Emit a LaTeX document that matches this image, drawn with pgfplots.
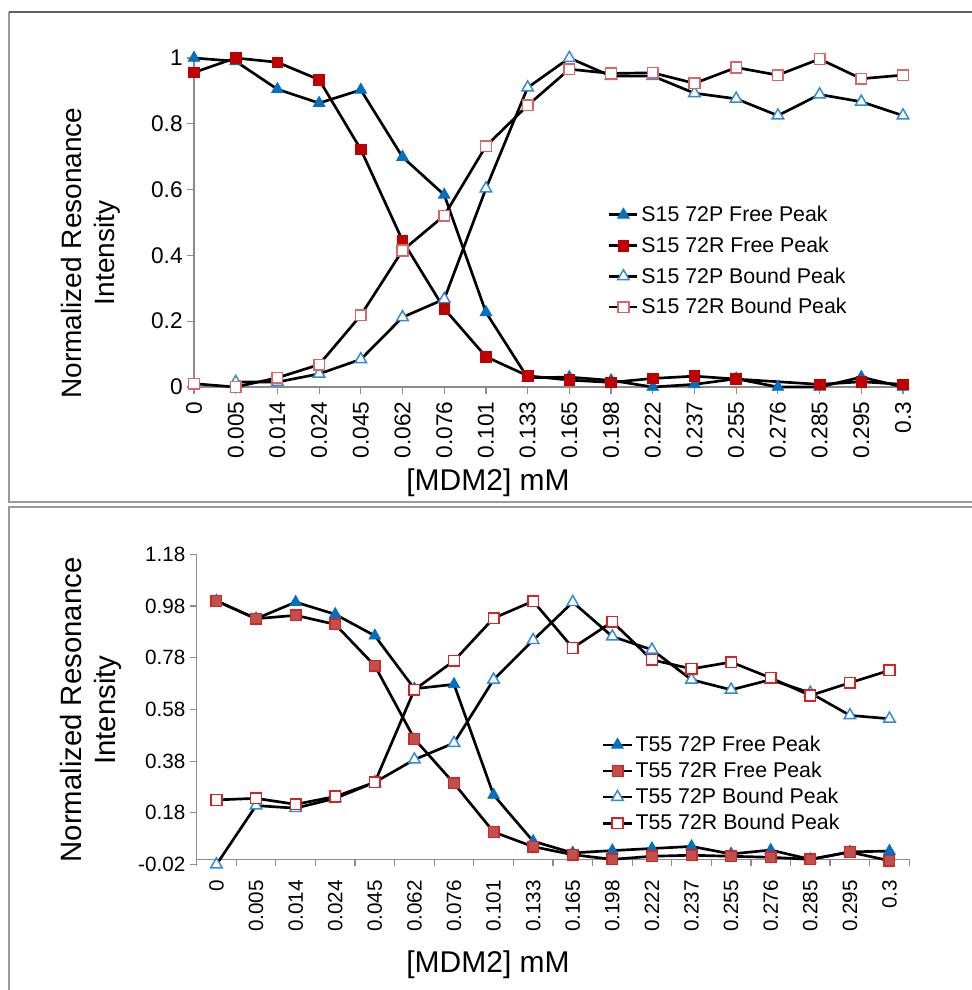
\documentclass[border=0pt]{standalone}
\usepackage{pgfplots}
\pgfplotsset{compat=1.18}
\usepackage{fontspec}
\setmainfont{Liberation Sans}
\definecolor{bluef}{HTML}{0070C0}
\definecolor{blueo}{HTML}{2F8AD8}
\definecolor{redf}{HTML}{C00000}
\definecolor{redo}{HTML}{D96666}
\definecolor{redfb}{HTML}{C0504D}
\definecolor{redeb}{HTML}{D42424}
\definecolor{axgray}{HTML}{8C8C8C}
\definecolor{framegray}{HTML}{9A9A9A}
\definecolor{framedark}{HTML}{606060}

\pgfplotsset{
  base/.style={
    scale only axis, clip=false,
    axis line style={axgray, line width=1pt},
    tick style={axgray, line width=0.9pt},
    major tick length=5pt, minor tick length=5pt,
    tick align=outside,
    /pgf/number format/assume math mode=true,
    legend cell align=left,
    legend image code/.code={\draw[mark repeat=2,mark phase=2,##1] plot coordinates {(0cm,0cm) (0.37cm,0cm) (0.74cm,0cm)};},
  },
  pf/.style={black, line width=2pt, mark=triangle*, mark size=5pt, mark options={solid, fill=bluef, draw=bluef, line width=0.6pt}},
  rf/.style={black, line width=2pt, mark=square*, mark size=4pt, mark options={solid, fill=redf, draw=redf, line width=0.6pt}},
  rfb/.style={black, line width=2pt, mark=square*, mark size=4pt, mark options={solid, fill=redfb, draw=redeb, line width=1pt}},
  pb/.style={black, line width=2pt, mark=triangle*, mark size=5pt, mark options={solid, fill=white, draw=blueo, line width=1.1pt}},
  rb/.style={black, line width=2pt, mark=square*, mark size=4pt, mark options={solid, fill=white, draw=redo, line width=1.1pt}},
  rbb/.style={black, line width=2pt, mark=square*, mark size=4pt, mark options={solid, fill=white, draw=redeb, line width=1.1pt}},
}

\begin{document}
\begin{tikzpicture}[x=0.75pt,y=0.75pt]
\useasboundingbox (0,0) rectangle (972,990);
% frames
\draw[framegray, line width=1.3pt] (972,488) -- (9,488) -- (9,978);
\draw[framedark, line width=1.1pt] (9,978) -- (972,978);
\draw[framegray, line width=1.3pt] (972,483) -- (9,483) -- (9,0);

% ---------------- TOP ----------------
\begin{axis}[base,
  at={(145.5pt,452.25pt)}, anchor=south west,
  width=531.75pt, height=246.75pt,
  axis lines*=left,
  xmin=0, xmax=17, ymin=0, ymax=1,
  xtick={0,...,17},
  xticklabels={0,0.005,0.014,0.024,0.045,0.062,0.076,0.101,0.133,0.165,0.198,0.222,0.237,0.255,0.276,0.285,0.295,0.3},
  xticklabel shift={2.5pt},
  xticklabel style={rotate=90, anchor=east, font=\fontsize{17}{20}\selectfont},
  ytick={0,0.2,0.4,0.6,0.8,1},
  yticklabels={0,0.2,0.4,0.6,0.8,1},
  yticklabel style={font=\fontsize{17}{20}\selectfont},
  legend style={draw=none, fill=none, at={(0.578,0.567)}, anchor=north west,
    font=\fontsize{16}{19}\selectfont, row sep=6pt},
]
\addplot[pf] coordinates {(0,1.0) (1,0.99) (2,0.905) (3,0.863) (4,0.903) (5,0.699) (6,0.584) (7,0.227) (8,0.028) (9,0.03) (10,0.02) (11,0.0) (12,0.008) (13,0.025) (14,0.0) (15,0.0) (16,0.03) (17,0.0)};
\addlegendentry{S15 72P Free Peak}
\addplot[rf] coordinates {(0,0.956) (1,1.0) (2,0.987) (3,0.934) (4,0.722) (5,0.445) (6,0.238) (7,0.092) (8,0.034) (9,0.021) (10,0.014) (11,0.026) (12,0.033) (13,0.024) (15,0.008) (16,0.016) (17,0.008)};
\addlegendentry{S15 72R Free Peak}
\addplot[pb] coordinates {(1,0.015) (2,0.015) (3,0.04) (4,0.084) (5,0.212) (6,0.267) (7,0.603) (8,0.91) (9,1.0) (10,0.945) (11,0.945) (12,0.893) (13,0.876) (14,0.825) (15,0.889) (16,0.867) (17,0.825)};
\addlegendentry{S15 72P Bound Peak}
\addplot[rb] coordinates {(0,0.01) (1,0.0) (2,0.028) (3,0.068) (4,0.218) (5,0.415) (6,0.521) (7,0.732) (8,0.856) (9,0.966) (10,0.953) (11,0.955) (12,0.923) (13,0.971) (14,0.948) (15,0.997) (16,0.937) (17,0.948)};
\addlegendentry{S15 72R Bound Peak}
\end{axis}

% ---------------- BOTTOM ----------------
\begin{axis}[base,
  at={(147.5pt,94.1pt)}, anchor=south west,
  width=534.45pt, height=232.65pt,
  axis x line*=middle, axis y line*=left,
  hide obscured x ticks=false,
  xmin=-0.5, xmax=17.5, ymin=-0.02, ymax=1.18,
  xtick={0,...,17},
  major x tick style={draw=none},
  minor xtick={-0.5,0.5,...,17.5},
  minor x tick style={axgray, line width=0.9pt},
  xticklabels={0,0.005,0.014,0.024,0.045,0.062,0.076,0.101,0.133,0.165,0.198,0.222,0.237,0.255,0.276,0.285,0.295,0.3},
  xticklabel shift={7pt},
  xticklabel style={rotate=90, anchor=east, font=\fontsize{15.5}{18}\selectfont},
  ytick={-0.02,0.18,0.38,0.58,0.78,0.98,1.18},
  yticklabels={-0.02,0.18,0.38,0.58,0.78,0.98,1.18},
  yticklabel style={font=\fontsize{15.5}{18}\selectfont},
  legend style={draw=none, fill=none, at={(0.563,0.432)}, anchor=north west,
    font=\fontsize{16}{19}\selectfont, row sep=2.5pt},
]
\addplot[pf] coordinates {(0,1.0) (1,0.931) (2,0.995) (3,0.948) (4,0.865) (5,0.66) (6,0.677) (7,0.249) (8,0.07) (9,0.025) (10,0.034) (11,0.042) (12,0.05) (13,0.021) (14,0.036) (15,0.0) (16,0.029) (17,0.032)};
\addlegendentry{T55 72P Free Peak}
\addplot[rfb] coordinates {(0,1.0) (1,0.931) (2,0.944) (3,0.909) (4,0.749) (5,0.466) (6,0.294) (7,0.106) (8,0.049) (9,0.018) (10,0.0) (11,0.012) (12,0.016) (13,0.012) (14,0.008) (15,0.0) (16,0.028) (17,-0.005)};
\addlegendentry{T55 72R Free Peak}
\addplot[pb] coordinates {(0,-0.02) (1,0.208) (2,0.198) (3,0.236) (4,0.298) (5,0.386) (6,0.45) (7,0.695) (8,0.848) (9,0.995) (10,0.862) (11,0.811) (12,0.695) (13,0.656) (14,0.695) (15,0.644) (16,0.557) (17,0.544)};
\addlegendentry{T55 72P Bound Peak}
\addplot[rbb] coordinates {(0,0.23) (1,0.236) (2,0.213) (3,0.243) (4,0.298) (5,0.656) (6,0.768) (7,0.933) (8,0.999) (9,0.818) (10,0.919) (11,0.772) (12,0.737) (13,0.763) (14,0.702) (15,0.634) (16,0.683) (17,0.731)};
\addlegendentry{T55 72R Bound Peak}
\end{axis}

% axis titles
\node[font=\fontsize{22.5}{26}\selectfont] at (488,507) {[MDM2] mM};
\node[font=\fontsize{22.5}{26}\selectfont] at (488,25) {[MDM2] mM};
\node[rotate=90, align=center, font=\fontsize{21}{25}\selectfont] at (91,737) {Normalized Resonance\\Intensity};
\node[rotate=90, align=center, font=\fontsize{22}{25}\selectfont] at (91,280) {Normalized Resonance\\Intensity};
\end{tikzpicture}
\end{document}
